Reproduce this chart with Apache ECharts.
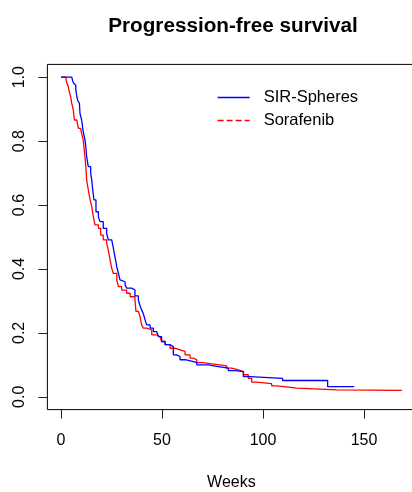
<!DOCTYPE html>
<html>
<head>
<meta charset="utf-8">
<script src="https://cdn.jsdelivr.net/npm/echarts@6/dist/echarts.min.js"></script>
<style>
html,body{margin:0;padding:0;background:#fff;}
#chart{width:412px;height:492px;}
</style>
</head>
<body>
<div id="chart"></div>
<script>
// Kaplan-Meier style step data: [weeks, survival]
var sirSpheres = [[0,1.0],[5.3,0.994],[5.8,0.988],[6.3,0.981],[6.9,0.975],[7.3,0.962],[7.7,0.945],[8.2,0.928],[9.1,0.918],[9.4,0.886],[10.2,0.866],[11.0,0.829],[11.9,0.803],[12.3,0.78],[12.7,0.751],[13.5,0.72],[14.7,0.699],[15.2,0.678],[15.7,0.647],[16.3,0.616],[17.3,0.579],[18.5,0.563],[19.3,0.548],[20.9,0.527],[22.6,0.511],[23.4,0.491],[25.1,0.485],[25.9,0.465],[26.7,0.438],[27.6,0.407],[28.4,0.386],[29.2,0.366],[30.0,0.36],[31.7,0.35],[32.5,0.34],[35.0,0.334],[36.6,0.316],[38.3,0.303],[39.1,0.285],[39.9,0.272],[40.7,0.261],[41.6,0.241],[42.4,0.225],[44.1,0.215],[45.7,0.204],[47.4,0.199],[48.2,0.188],[49.8,0.173],[51.5,0.163],[54.0,0.157],[55.6,0.131],[57.3,0.126],[58.9,0.116],[61.4,0.11],[65.5,0.107],[67.2,0.1],[72.9,0.095],[77.1,0.09],[82.8,0.082],[86.1,0.079],[90.3,0.063],[93.6,0.058],[109.7,0.051],[132.0,0.032],[145.2,0.032]];
var sorafenib = [[0,1.0],[2.5,0.99],[3.0,0.98],[3.6,0.97],[4.1,0.954],[4.8,0.938],[5.3,0.918],[6.1,0.897],[6.6,0.866],[7.8,0.86],[8.6,0.84],[9.7,0.834],[10.2,0.824],[11.0,0.803],[11.5,0.772],[12.0,0.74],[12.4,0.709],[12.7,0.678],[13.5,0.647],[14.4,0.616],[15.2,0.595],[16.0,0.563],[16.8,0.538],[18.5,0.527],[19.6,0.506],[20.9,0.491],[22.6,0.48],[23.4,0.459],[24.3,0.428],[25.1,0.402],[25.9,0.386],[27.6,0.366],[28.4,0.345],[30.0,0.334],[32.5,0.324],[34.2,0.313],[36.6,0.303],[37.1,0.267],[38.3,0.261],[39.1,0.251],[39.9,0.225],[40.7,0.215],[42.4,0.209],[44.9,0.194],[47.4,0.188],[49.0,0.183],[49.8,0.173],[51.5,0.163],[54.0,0.152],[56.4,0.147],[58.9,0.142],[61.4,0.131],[63.9,0.121],[65.5,0.116],[67.2,0.107],[70.4,0.103],[74.6,0.099],[79.5,0.097],[82.0,0.09],[84.5,0.084],[87.8,0.079],[90.3,0.069],[92.7,0.058],[94.4,0.046],[96.9,0.041],[104.3,0.034],[106.8,0.03],[112.5,0.027],[116.7,0.022],[136.5,0.02],[168.7,0.02]];
var seriesNames = ['SIR-Spheres', 'Sorafenib'];
var xTicks = [0, 50, 100, 150];
var yTicks = [0, 0.2, 0.4, 0.6, 0.8, 1.0];
var titleText = 'Progression-free survival';
var xName = 'Weeks';

var FONT = '"Liberation Sans", Arial, sans-serif';
var chart = echarts.init(document.getElementById('chart'), null, {renderer: 'canvas'});
chart.setOption({
  animation: false,
  backgroundColor: '#ffffff',
  title: {
    text: titleText,
    left: 228,
    textAlign: 'center',
    top: 11,
    textStyle: {fontFamily: FONT, fontSize: 20.7, fontWeight: 'bold', color: '#000'}
  },
  legend: {
    orient: 'vertical',
    left: 212,
    top: 84,
    itemWidth: 32,
    itemHeight: 16,
    itemGap: 6,
    textStyle: {fontFamily: FONT, fontSize: 16.5, color: '#000', padding: [0, 0, 0, 9]},
    data: [
      {name: seriesNames[0], itemStyle: {opacity: 0}, lineStyle: {color: '#0000ff', width: 1.3}},
      {name: seriesNames[1], itemStyle: {opacity: 0}, lineStyle: {color: '#ff0000', width: 1.3, type: [6, 3]}}
    ]
  },
  grid: {
    left: 47.4, right: -3.4, top: 64.4, bottom: 82.4,
    outerBoundsMode: 'none',
    containLabel: false,
    show: true, borderColor: '#000', borderWidth: 1, backgroundColor: 'transparent'
  },
  xAxis: {
    type: 'value',
    min: -6.75, max: 175.45,
    name: xName,
    nameLocation: 'middle',
    nameGap: 65,
    nameTextStyle: {fontFamily: FONT, fontSize: 16, color: '#000'},
    axisLine: {show: false, onZero: false},
    splitLine: {show: false},
    axisTick: {show: true, inside: false, length: 9, customValues: xTicks, lineStyle: {color: '#222', width: 1}},
    axisLabel: {customValues: xTicks, margin: 23, fontFamily: FONT, fontSize: 16, color: '#000'}
  },
  yAxis: {
    type: 'value',
    min: -0.04, max: 1.04,
    axisLine: {show: false, onZero: false},
    splitLine: {show: false},
    axisTick: {show: true, inside: false, length: 9, customValues: yTicks, lineStyle: {color: '#222', width: 1}},
    axisLabel: {customValues: yTicks, margin: 20, rotate: 90, fontFamily: FONT, fontSize: 16, color: '#000',
      formatter: function (v) { return v.toFixed(1); }}
  },
  series: [
    {name: seriesNames[0], type: 'line', step: 'end', data: sirSpheres, symbol: 'none',
      lineStyle: {color: '#0000ff', width: 1.3}, itemStyle: {color: '#0000ff'}, z: 3},
    {name: seriesNames[1], type: 'line', step: 'end', data: sorafenib, symbol: 'none',
      lineStyle: {color: '#ff0000', width: 1.3}, itemStyle: {color: '#ff0000'}, z: 2}
  ]
});
</script>
</body>
</html>
